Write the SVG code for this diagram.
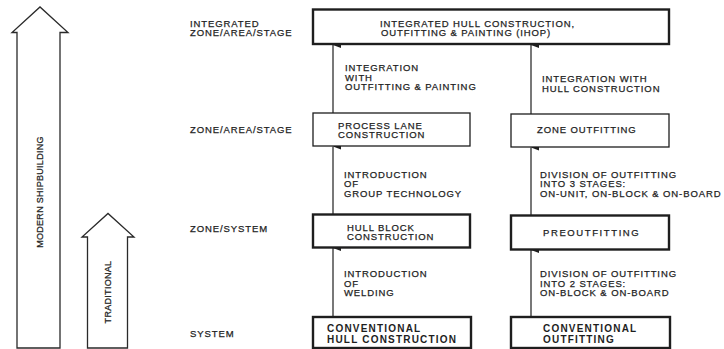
<svg xmlns="http://www.w3.org/2000/svg" width="724" height="349" viewBox="0 0 724 349">
<style>
text{font-family:"Liberation Sans",Arial,sans-serif;font-size:9.5px;letter-spacing:0.9px;fill:#1e1e1e;stroke:#1e1e1e;stroke-width:0.25}
.big{font-size:10px;font-weight:bold;letter-spacing:1.2px;stroke-width:0}
.rot{font-size:9px;letter-spacing:0.3px}
.box{fill:#fff;stroke:#1e1e1e}
.thin{stroke-width:1.3}
.thick{stroke-width:2.4}
.bigarrow{fill:#fff;stroke:#2a2a2a;stroke-width:1.3;stroke-linejoin:miter}
.conn{stroke:#1e1e1e;stroke-width:1.2;fill:none}
</style>
<defs>
<marker id="ah" viewBox="0 0 6 8" refX="3" refY="0" markerWidth="6" markerHeight="8" markerUnits="userSpaceOnUse" orient="auto-start-reverse">
<path d="M0,8 L3,0 L6,8 Z" fill="#1e1e1e"/>
</marker>
</defs>
<rect width="724" height="349" fill="#fff"/>

<g id="modern-arrow">
<path class="bigarrow" d="M17,348 L17,32.5 L12,32.5 L40,7 L68,32.5 L60,32.5 L60,348 Z"/>
<text class="rot" transform="translate(43,192) rotate(-90)" text-anchor="middle">MODERN SHIPBUILDING</text>
</g>
<g id="traditional-arrow">
<path class="bigarrow" d="M87.5,348 L87.5,237 L82,237 L108,213.5 L134,237 L127.5,237 L127.5,348 Z"/>
<text class="rot" transform="translate(111,292) rotate(-90)" text-anchor="middle">TRADITIONAL</text>
</g>

<g id="level-labels">
<text x="190" y="26.5">INTEGRATED</text>
<text x="190" y="36">ZONE/AREA/STAGE</text>
<text x="190" y="133">ZONE/AREA/STAGE</text>
<text x="190" y="232">ZONE/SYSTEM</text>
<text x="190" y="337">SYSTEM</text>
</g>

<g id="connectors">
<line class="conn" x1="333" y1="113" x2="333" y2="45" marker-end="url(#ah)"/>
<line class="conn" x1="531" y1="114" x2="531" y2="45" marker-end="url(#ah)"/>
<line class="conn" x1="333" y1="214" x2="333" y2="146.5" marker-end="url(#ah)"/>
<line class="conn" x1="531" y1="215" x2="531" y2="147.5" marker-end="url(#ah)"/>
<line class="conn" x1="333" y1="317" x2="333" y2="248" marker-end="url(#ah)"/>
<line class="conn" x1="531" y1="317" x2="531" y2="250" marker-end="url(#ah)"/>
<text x="345" y="71">INTEGRATION</text>
<text x="345" y="80.5">WITH</text>
<text x="345" y="90">OUTFITTING &amp; PAINTING</text>
<text x="542" y="82">INTEGRATION WITH</text>
<text x="542" y="91.5">HULL CONSTRUCTION</text>
<text x="344" y="177.5">INTRODUCTION</text>
<text x="344" y="187">OF</text>
<text x="344" y="196.5">GROUP TECHNOLOGY</text>
<text x="540" y="177.5">DIVISION OF OUTFITTING</text>
<text x="540" y="187">INTO 3 STAGES:</text>
<text x="540" y="196.5">ON-UNIT, ON-BLOCK &amp; ON-BOARD</text>
<text x="344" y="277">INTRODUCTION</text>
<text x="344" y="286.5">OF</text>
<text x="344" y="296">WELDING</text>
<text x="540" y="277">DIVISION OF OUTFITTING</text>
<text x="540" y="286.5">INTO 2 STAGES:</text>
<text x="540" y="296">ON-BLOCK &amp; ON-BOARD</text>
</g>

<g id="ihop">
<rect class="box thick" x="313" y="9.5" width="356" height="34.5"/>
<text x="380" y="26.5">INTEGRATED HULL CONSTRUCTION,</text>
<text x="381" y="36">OUTFITTING &amp; PAINTING (IHOP)</text>
</g>
<g id="process-lane">
<rect class="box thin" x="313" y="113" width="157" height="33"/>
<text x="338" y="128.5">PROCESS LANE</text>
<text x="338" y="138">CONSTRUCTION</text>
</g>
<g id="zone-outfitting">
<rect class="box thin" x="511" y="114" width="158" height="33"/>
<text x="537" y="133">ZONE OUTFITTING</text>
</g>
<g id="hull-block">
<rect class="box thick" x="313" y="214.5" width="157" height="33"/>
<text x="347" y="230.5">HULL BLOCK</text>
<text x="347" y="240">CONSTRUCTION</text>
</g>
<g id="preoutfitting">
<rect class="box thick" x="511" y="215.5" width="158" height="34"/>
<text x="543" y="235.5" style="letter-spacing:1.6px">PREOUTFITTING</text>
</g>
<g id="conventional-hull">
<rect class="box thick" x="313" y="317" width="158" height="31"/>
<text class="big" x="327" y="332">CONVENTIONAL</text>
<text class="big" x="327" y="343">HULL CONSTRUCTION</text>
</g>
<g id="conventional-outfitting">
<rect class="box thick" x="511" y="317" width="159" height="31"/>
<text class="big" x="543" y="332">CONVENTIONAL</text>
<text class="big" x="543" y="343">OUTFITTING</text>
</g>
</svg>
